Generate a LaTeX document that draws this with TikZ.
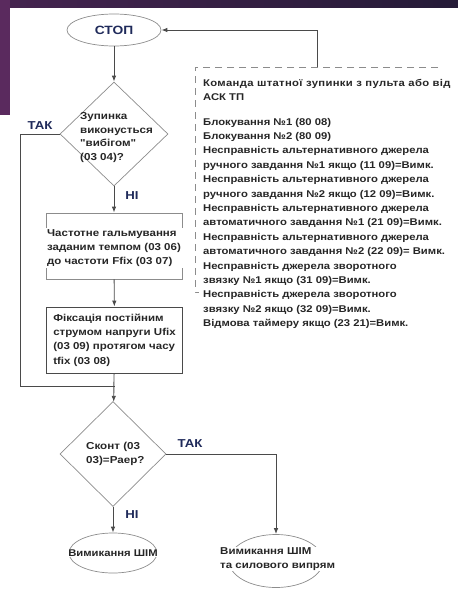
\documentclass[tikz,border=0pt]{standalone}
\usepackage{fontspec}
\setmainfont{Liberation Sans}[FakeStretch=1.15,Ligatures=TeXOff]
\usetikzlibrary{shapes.geometric,arrows.meta}

\definecolor{slidebar}{HTML}{5A2A5E}
\definecolor{slidetop}{HTML}{251B38}
\definecolor{flowline}{HTML}{4A4A4A}
\definecolor{shapeline}{HTML}{8C8C8C}
\definecolor{labelblue}{HTML}{1F2A5A}
\definecolor{ink}{HTML}{262626}

\begin{document}
\begin{tikzpicture}[x=1pt,y=-1pt,font=\bfseries\fontsize{9.8}{14.4}\selectfont,
  >={Latex[length=6pt,width=4.5pt]},
  flow/.style={draw=flowline,line width=0.9pt},
  decision/.style={diamond,draw=shapeline,line width=0.7pt,inner sep=0pt,
    minimum width=108pt,minimum height=104pt},
  terminal/.style={ellipse,draw=shapeline,line width=0.7pt,inner sep=0pt},
  block/.style={rectangle,draw=flowline,line width=0.8pt,
    minimum width=136pt,minimum height=66pt},
  boxfont/.style={font=\bfseries\fontsize{10}{14.4}\selectfont},
  dtext/.style={align=left,text=ink,inner sep=0pt,
    font=\bfseries\fontsize{10.1}{13.4}\selectfont},
  inside/.style={fill=white,inner xsep=1pt,inner ysep=1pt,align=left,text=ink},
  answer/.style={text=labelblue,inner sep=0pt,font=\bfseries\fontsize{11.5}{13}\selectfont}]
\useasboundingbox (0,0) rectangle (458,592);

% slide edge
\shade[left color=slidebar!60!slidetop,right color=slidetop] (0,0) rectangle (458,7);
\fill[slidebar] (0,0) rectangle (10,115);

% left column
\node[terminal,minimum width=94pt,minimum height=32pt,text=labelblue,
  font=\bfseries\fontsize{12}{14}\selectfont] (stop) at (114,30) {СТОП};
\node[decision] (q1) at (114,134) {};
\node[dtext,anchor=west] (q1txt) at (80,137.5) {Зупинка\\виконусться\\"вибігом"\\(03 04)?};
\node[block,draw=shapeline] (b1) at (114,246) {};
\node[inside,boxfont,minimum width=142pt] (b1txt) at (114,248) {Частотне гальмування\\заданим темпом (03 06)\\до частоти Ffix (03 07)};
\node[block,boxfont,align=left,text=ink] (b2) at (114.5,340)
  {Фіксація постійним\\струмом напруги Ufix\\(03 09) протягом часу\\tfix (03 08)};
\node[decision,minimum width=106pt,minimum height=105pt] (q2) at (113,454) {};
\node[dtext,anchor=west] (q2txt) at (86,454) {Сконт (03\\03)=Раер?};
\node[terminal,minimum width=88pt,minimum height=40pt] (off1) at (113,553) {};
\node[inside,inner xsep=0pt] (off1txt) at (off1) {Вимикання ШІМ};
\node[terminal,minimum width=94pt,minimum height=53pt] (off2) at (276,561) {};
\node[inside,anchor=west,font=\bfseries\fontsize{10}{14}\selectfont] (off2txt) at (219,559) {Вимикання ШІМ\\та силового випрям};

% answers
\node[answer] (yes1) at (40,126) {ТАК};
\node[answer] (no1) at (132,196) {НІ};
\node[answer] (yes2) at (190,444) {ТАК};
\node[answer] (no2) at (132,515) {НІ};

% stop conditions
\coordinate (cmdtop) at (317,67);
\draw[shapeline,line width=0.7pt,dash pattern=on 7pt off 5pt] (438,67) -| (195,292) -- (199,292);
\node[anchor=north west,align=left,text=ink,inner sep=0pt] (cmd) at (203,79) {%
{\addfontfeature{LetterSpace=3.5}Команда штатної зупинки з пульта або від}\\
АСК ТП\\[10pt]
Блокування №1 (80 08)\\
Блокування №2 (80 09)\\
Несправність альтернативного джерела\\
ручного завдання №1 якщо (11 09)=Вимк.\\
Несправність альтернативного джерела\\
ручного завдання №2 якщо (12 09)=Вимк.\\
Несправність альтернативного джерела\\
автоматичного завдання №1 (21 09)=Вимк.\\
Несправність альтернативного джерела\\
автоматичного завдання №2 (22 09)= Вимк.\\
Несправність джерела зворотного\\
звязку №1 якщо (31 09)=Вимк.\\
Несправність джерела зворотного\\
звязку №2 якщо (32 09)=Вимк.\\
Відмова таймеру якщо (23 21)=Вимк.};

% connectors
\draw[flow,->] (cmdtop) |- (stop.east);
\draw[flow,->] (stop) -- (q1);
\draw[flow,->] (q1) -- (b1);
\draw[flow,->] (b1) -- (b2);
\coordinate (loop) at (20,386);
\draw[flow] (q1.west) -| (loop) -- (loop -| b2.south);
\draw[flow,->] (b2) -- (q2);
\draw[flow,->] (q2) -- (off1);
\draw[flow,->] (q2.east) -| (off2.north);
\end{tikzpicture}
\end{document}
